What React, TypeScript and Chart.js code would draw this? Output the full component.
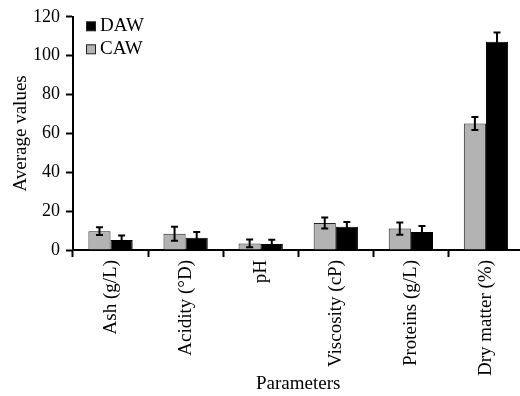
import React, { useEffect, useRef } from "react";
import { Chart, registerables } from "chart.js";

Chart.register(...registerables);

const categories = ["Ash (g/L)", "Acidity (°D)", "pH", "Viscosity (cP)", "Proteins (g/L)", "Dry matter (%)"];
const seriesNames = ["CAW", "DAW"];
const cawValues = [9.7, 8.3, 3.4, 13.9, 11.0, 65.1];
const cawErrors = [2.0, 3.6, 2.0, 2.8, 3.2, 3.4];
const dawValues = [5.1, 6.3, 3.1, 11.9, 9.3, 107.1];
const dawErrors = [2.4, 3.0, 2.2, 2.5, 3.0, 4.8];
const yMin = 0;
const yMax = 120;
const yStep = 20;
const xTitle = "Parameters";
const yTitle = "Average values";

const FONT = "'Liberation Serif', 'Times New Roman', serif";
const CAW_COLOR = "#b3b3b3";
const DAW_COLOR = "#000000";

const errorBarPlugin = {
  id: "errorBars",
  afterDatasetsDraw(chart: any) {
    const ctx = chart.ctx;
    const yScale = chart.scales.y;
    ctx.save();
    ctx.strokeStyle = "#000";
    ctx.lineWidth = 2;
    chart.data.datasets.forEach((ds: any, i: number) => {
      const meta = chart.getDatasetMeta(i);
      meta.data.forEach((bar: any, j: number) => {
        const v = ds.data[j];
        const e = ds.errors[j];
        const x = bar.x;
        const yt = yScale.getPixelForValue(v + e);
        const yb = yScale.getPixelForValue(v - e);
        const hw = 3.5;
        ctx.beginPath();
        ctx.moveTo(x, yt);
        ctx.lineTo(x, yb);
        ctx.moveTo(x - hw, yt);
        ctx.lineTo(x + hw, yt);
        ctx.moveTo(x - hw, yb);
        ctx.lineTo(x + hw, yb);
        ctx.stroke();
      });
    });
    ctx.restore();
  },
};

const legendPlugin = {
  id: "customLegend",
  afterDraw(chart: any) {
    const ctx = chart.ctx;
    const { left, top } = chart.chartArea;
    const items = [
      { label: seriesNames[1], color: DAW_COLOR, dy: 9.5 },
      { label: seriesNames[0], color: CAW_COLOR, dy: 32.5 },
    ];
    ctx.save();
    items.forEach((it) => {
      const cy = top + it.dy;
      ctx.fillStyle = it.color;
      ctx.fillRect(left + 13.5, cy - 4.5, 9, 9);
      ctx.strokeStyle = "#222";
      ctx.lineWidth = 1;
      ctx.strokeRect(left + 13.5, cy - 4.5, 9, 9);
      ctx.fillStyle = "#000";
      ctx.font = `19px ${FONT}`;
      ctx.textBaseline = "middle";
      ctx.textAlign = "left";
      ctx.fillText(it.label, left + 27, cy);
    });
    ctx.restore();
  },
};

export default function App() {
  const ref = useRef<HTMLCanvasElement | null>(null);

  useEffect(() => {
    if (!ref.current) return;
    const chart = new Chart(ref.current, {
      type: "bar",
      data: {
        labels: categories,
        datasets: [
          {
            label: seriesNames[0],
            data: cawValues,
            errors: cawErrors,
            backgroundColor: CAW_COLOR,
            borderColor: "#222",
            borderWidth: 1,
          } as any,
          {
            label: seriesNames[1],
            data: dawValues,
            errors: dawErrors,
            backgroundColor: DAW_COLOR,
            borderColor: "#000",
            borderWidth: 1,
          } as any,
        ],
      },
      options: {
        responsive: false,
        animation: false,
        devicePixelRatio: 1,
        layout: { padding: { top: 14, right: 16.5, left: 0, bottom: 0 } },
        datasets: { bar: { categoryPercentage: 0.59, barPercentage: 1.0 } },
        plugins: {
          legend: { display: false },
          tooltip: { enabled: false },
        },
        scales: {
          x: {
            grid: {
              drawOnChartArea: false,
              drawTicks: true,
              tickLength: 7,
              tickColor: "#000",
              tickWidth: 2,
              color: "#000",
              offset: true,
            },
            border: { display: true, color: "#000", width: 2 },
            ticks: {
              color: "#000",
              font: { family: FONT, size: 19 },
              maxRotation: 90,
              minRotation: 90,
              padding: 3,
              autoSkip: false,
            },
            title: {
              display: true,
              text: xTitle,
              color: "#000",
              font: { family: FONT, size: 19 },
              padding: { top: 0, bottom: 1 },
            },
            afterFit: (s: any) => {
              s.height = 146;
            },
          },
          y: {
            min: yMin,
            max: yMax,
            grid: {
              drawOnChartArea: false,
              drawTicks: true,
              tickLength: 7,
              tickColor: "#000",
              tickWidth: 2,
              color: "#000",
            },
            border: { display: true, color: "#000", width: 2 },
            ticks: {
              stepSize: yStep,
              color: "#000",
              font: { family: FONT, size: 18 },
              padding: 6,
            },
            title: {
              display: true,
              text: yTitle,
              color: "#000",
              font: { family: FONT, size: 19 },
              padding: { top: 10, bottom: 0 },
            },
            afterFit: (s: any) => {
              s.width = 73;
            },
          },
        },
      } as any,
      plugins: [errorBarPlugin, legendPlugin],
    });
    return () => chart.destroy();
  }, []);

  return (
    <div
      style={{
        position: "absolute",
        left: 0,
        top: 0,
        width: 520,
        height: 396,
        overflow: "hidden",
        background: "#fff",
      }}
    >
      <canvas ref={ref} width={540} height={396} style={{ width: 540, height: 396, display: "block" }} />
    </div>
  );
}
